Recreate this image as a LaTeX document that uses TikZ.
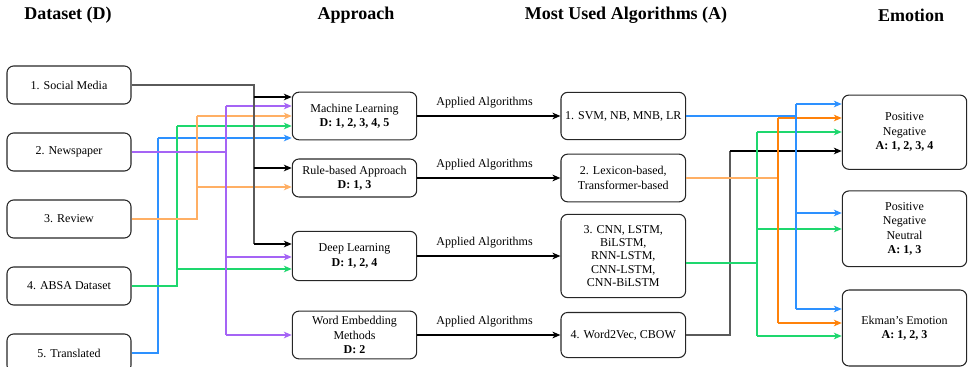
\documentclass[tikz,border=0pt]{standalone}
\usepackage{fontspec}
\setmainfont{Liberation Serif}
\usetikzlibrary{arrows.meta}

\definecolor{edgegray}{RGB}{90,90,90}
\definecolor{lpurple}{RGB}{165,100,245}
\definecolor{lorange}{RGB}{255,175,100}
\definecolor{dorange}{RGB}{255,130,10}
\definecolor{lgreen}{RGB}{30,215,110}
\definecolor{lblue}{RGB}{45,145,255}

\begin{document}
\begin{tikzpicture}[x=0.75pt,y=-0.75pt,
  box/.style={draw=black!85, line width=0.8pt, rounded corners=5pt,
    align=center, inner sep=0pt, font=\fontsize{9}{10.8}\selectfont},
  dsbox/.style={box, minimum width=93pt, minimum height=28.5pt},
  apbox/.style={box, minimum width=93.3pt},
  albox/.style={box, minimum width=93.5pt},
  embox/.style={box, minimum width=93.3pt},
  head/.style={font=\fontsize{13.5}{16}\selectfont\bfseries},
  trunk/.style={line width=1pt},
  link/.style={line width=1pt, -{Stealth[length=6pt,width=5pt,inset=1.8pt]}},
  lbl/.style={font=\fontsize{9}{10.8}\selectfont, above=2pt, pos=0.47}
]
\useasboundingbox (0,0) rectangle (968,367);

% column headings
\node[head] (hd) at (68,15) {Dataset (D)};
\node[head] (ha) at (356,15) {Approach};
\node[head] (hm) at (626,15) {Most Used Algorithms (A)};
\node[head] (he) at (911,15) {Emotion};

% datasets
\node[dsbox] (ds1) at (69,85)  {1. Social Media};
\node[dsbox] (ds2) at (69,152) {2. Newspaper};
\node[dsbox] (ds3) at (69,219) {3. Review};
\node[dsbox] (ds4) at (69,286) {4. ABSA Dataset};
\node[dsbox] (ds5) at (69,353) {5. Translated};

% approaches
\node[apbox, minimum height=35.7pt] (ml) at (354.5,116) {Machine Learning\\\textbf{D: 1, 2, 3, 4, 5}};
\node[apbox, minimum height=28.5pt] (rb) at (354.5,178) {Rule-based Approach\\\textbf{D: 1, 3}};
\node[apbox, minimum height=37pt]   (dl) at (354.5,256) {Deep Learning\\\textbf{D: 1, 2, 4}};
\node[apbox, minimum height=35.8pt] (we) at (354.5,335) {Word Embedding\\Methods\\\textbf{D: 2}};

% algorithms
\node[albox, minimum height=35.5pt] (a1) at (623.3,116) {1. SVM, NB, MNB, LR};
\node[albox, minimum height=35.8pt] (a2) at (623.3,178) {2. Lexicon-based,\\Transformer-based};
\node[albox, minimum height=62.5pt, font=\fontsize{9}{10}\selectfont] (a3) at (623.3,256)
  {3. CNN, LSTM,\\BiLSTM,\\RNN-LSTM,\\CNN-LSTM,\\CNN-BiLSTM};
\node[albox, minimum height=33.8pt] (a4) at (623.3,335) {4. Word2Vec, CBOW};

% emotions
\node[embox, minimum height=55.7pt] (e1) at (904.5,132.2) {Positive\\Negative\\\textbf{A: 1, 2, 3, 4}};
\node[embox, minimum height=56.8pt] (e2) at (904.5,228.8) {Positive\\Negative\\Neutral\\\textbf{A: 1, 3}};
\node[embox, minimum height=57pt]   (e3) at (904.5,328)   {Ekman's Emotion\\\textbf{A: 1, 2, 3}};

% junction points, dataset side
\coordinate (s1a) at (254,97);
\coordinate (s1b) at (254,168);
\coordinate (s1c) at (254,244);
\coordinate (s2a) at (226,106);
\coordinate (s2b) at (226,257);
\coordinate (s2c) at (226,335);
\coordinate (s3a) at (197,116);
\coordinate (s3b) at (197,187);
\coordinate (s4a) at (177,126);
\coordinate (s4b) at (177,269);
\coordinate (s5a) at (158,138);

% dataset -> approach
\draw[trunk, lblue] (ds5.east) -| (s5a);
\draw[link, lblue] (s5a) -- (ml.west |- s5a);

\draw[trunk, lgreen] (ds4.east) -| (s4a);
\draw[link, lgreen] (s4a) -- (ml.west |- s4a);
\draw[link, lgreen] (s4b) -- (dl.west |- s4b);

\draw[trunk, lorange] (ds3.east) -| (s3a);
\draw[link, lorange] (s3a) -- (ml.west |- s3a);
\draw[link, lorange] (s3b) -- (rb.west |- s3b);

\draw[trunk, lpurple] (ds2.east) -- (ds2.east -| s2a);
\draw[trunk, lpurple] (s2a) -- (s2c);
\draw[link, lpurple] (s2a) -- (ml.west |- s2a);
\draw[link, lpurple] (s2b) -- (dl.west |- s2b);
\draw[link, lpurple] (s2c) -- (we.west |- s2c);

\draw[trunk, edgegray] (ds1.east) -| (s1c);
\draw[link] (s1a) -- (ml.west |- s1a);
\draw[link] (s1b) -- (rb.west |- s1b);
\draw[link] (s1c) -- (dl.west |- s1c);

% approach -> algorithms
\draw[link] (ml.east) -- (a1.west) node[lbl] {Applied Algorithms};
\draw[link] (rb.east) -- (a2.west) node[lbl] {Applied Algorithms};
\draw[link] (dl.east) -- (a3.west) node[lbl] {Applied Algorithms};
\draw[link] (we.east) -- (a4.west) node[lbl] {Applied Algorithms};

% junction points, emotion side
\coordinate (t1a) at (796,104);
\coordinate (t1b) at (796,213);
\coordinate (t1c) at (796,309);
\coordinate (t2a) at (778,118);
\coordinate (t2c) at (778,323);
\coordinate (t3a) at (757,132);
\coordinate (t3m) at (757,263);
\coordinate (t3b) at (757,229);
\coordinate (t3c) at (757,336);
\coordinate (t4a) at (730,151);

% algorithms -> emotion
\draw[trunk, edgegray] (a4.east) -| (t4a);
\draw[link, black] (t4a) -- (e1.west |- t4a);

\draw[trunk, lgreen] (a3.east |- t3m) -- (t3m);
\draw[trunk, lgreen] (t3a) -- (t3c);
\draw[link, lgreen] (t3a) -- (e1.west |- t3a);
\draw[link, lgreen] (t3b) -- (e2.west |- t3b);
\draw[link, lgreen] (t3c) -- (e3.west |- t3c);

\draw[trunk, lorange] (a2.east) -- (a2.east -| t2a);
\draw[trunk, dorange] (t2a) -- (t2c);
\draw[link, dorange] (t2a) -- (e1.west |- t2a);
\draw[link, dorange] (t2c) -- (e3.west |- t2c);

\draw[trunk, lblue] (a1.east) -- (a1.east -| t1a);
\draw[trunk, lblue] (t1a) -- (t1c);
\draw[link, lblue] (t1a) -- (e1.west |- t1a);
\draw[link, lblue] (t1b) -- (e2.west |- t1b);
\draw[link, lblue] (t1c) -- (e3.west |- t1c);
\end{tikzpicture}
\end{document}
